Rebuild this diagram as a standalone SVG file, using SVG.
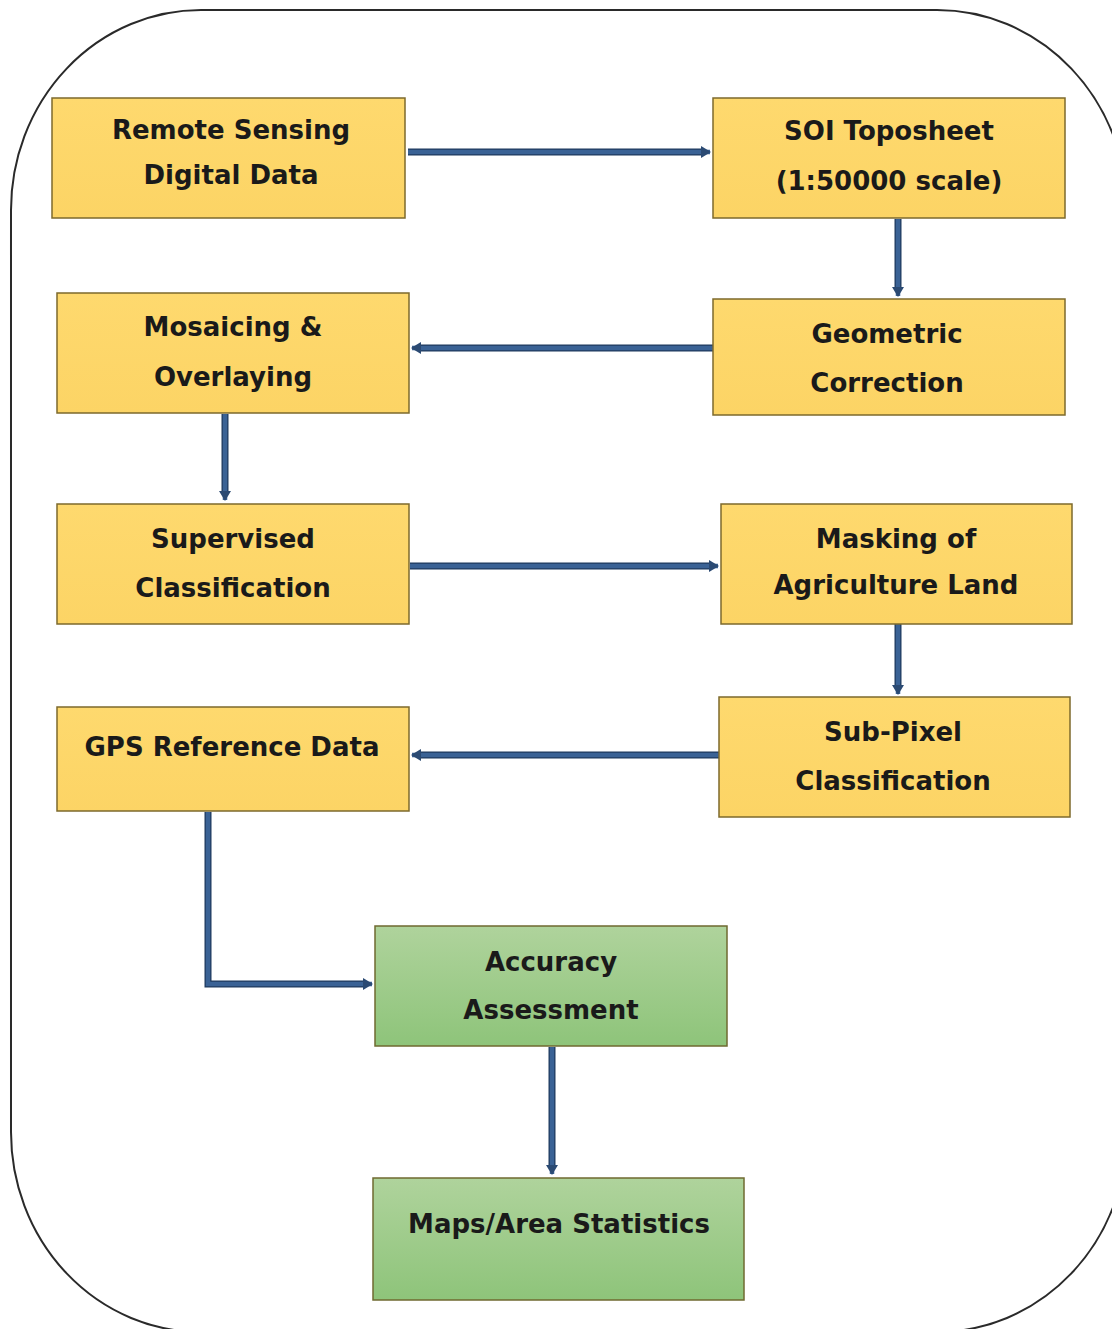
<svg xmlns="http://www.w3.org/2000/svg" width="1112" height="1329" viewBox="0 0 1112 1329">
<defs>
<style>
.y{fill:url(#gy);stroke:#7d6a2c;stroke-width:1.5}
.g{fill:url(#gg);stroke:#6f6a30;stroke-width:1.5}
.t{font-family:"DejaVu Sans",sans-serif;font-weight:bold;font-size:26px;fill:#1a1a1a;text-anchor:middle}
.c{fill:none;stroke:#1f3a5e;stroke-width:7}
.ci{fill:none;stroke:#3a6295;stroke-width:4.5}
</style>
<linearGradient id="gy" x1="0" y1="0" x2="0" y2="1"><stop offset="0" stop-color="#fed96e"/><stop offset="1" stop-color="#fcd465"/></linearGradient>
<linearGradient id="gg" x1="0" y1="0" x2="0" y2="1"><stop offset="0" stop-color="#afd39c"/><stop offset="1" stop-color="#8ec47a"/></linearGradient>
<marker id="ah" markerUnits="userSpaceOnUse" markerWidth="12" markerHeight="14" refX="9" refY="7" orient="auto"><path d="M0,1 L10,7 L0,13 Z" fill="#2b4a73"/></marker>
</defs>
<rect x="0" y="0" width="1112" height="1329" fill="#ffffff"/>
<rect id="frame" x="11" y="10" width="1116" height="1322" rx="190" ry="200" fill="none" stroke="#2a2a2a" stroke-width="2"/>
<g id="connectors">
<path class="c" d="M408,152 H704"/><path class="ci" d="M408,152 H710" marker-end="url(#ah)"/>
<path class="c" d="M898,219 V290"/><path class="ci" d="M898,219 V296" marker-end="url(#ah)"/>
<path class="c" d="M713,348 H418"/><path class="ci" d="M713,348 H412" marker-end="url(#ah)"/>
<path class="c" d="M225,414 V494"/><path class="ci" d="M225,414 V500" marker-end="url(#ah)"/>
<path class="c" d="M410,566 H712"/><path class="ci" d="M410,566 H718" marker-end="url(#ah)"/>
<path class="c" d="M898,624 V688"/><path class="ci" d="M898,624 V694" marker-end="url(#ah)"/>
<path class="c" d="M719,755 H418"/><path class="ci" d="M719,755 H412" marker-end="url(#ah)"/>
<path class="c" d="M208,812 V984 H366"/><path class="ci" d="M208,812 V984 H372" marker-end="url(#ah)"/>
<path class="c" d="M552,1047 V1168"/><path class="ci" d="M552,1047 V1174" marker-end="url(#ah)"/>
</g>
<g id="n1"><rect class="y" x="52" y="98" width="353" height="120"/><text class="t" x="231" y="139">Remote Sensing</text><text class="t" x="231" y="184">Digital Data</text></g>
<g id="n2"><rect class="y" x="713" y="98" width="352" height="120"/><text class="t" x="889" y="140">SOI Toposheet</text><text class="t" x="889" y="190">(1:50000 scale)</text></g>
<g id="n3"><rect class="y" x="713" y="299" width="352" height="116"/><text class="t" x="887" y="343">Geometric</text><text class="t" x="887" y="392">Correction</text></g>
<g id="n4"><rect class="y" x="57" y="293" width="352" height="120"/><text class="t" x="233" y="336">Mosaicing &amp;</text><text class="t" x="233" y="386">Overlaying</text></g>
<g id="n5"><rect class="y" x="57" y="504" width="352" height="120"/><text class="t" x="233" y="548">Supervised</text><text class="t" x="233" y="597">Classification</text></g>
<g id="n6"><rect class="y" x="721" y="504" width="351" height="120"/><text class="t" x="896" y="548">Masking of</text><text class="t" x="896" y="594">Agriculture Land</text></g>
<g id="n7"><rect class="y" x="719" y="697" width="351" height="120"/><text class="t" x="893" y="741">Sub-Pixel</text><text class="t" x="893" y="790">Classification</text></g>
<g id="n8"><rect class="y" x="57" y="707" width="352" height="104"/><text class="t" x="232" y="756">GPS Reference Data</text></g>
<g id="n9"><rect class="g" x="375" y="926" width="352" height="120"/><text class="t" x="551" y="971">Accuracy</text><text class="t" x="551" y="1019">Assessment</text></g>
<g id="n10"><rect class="g" x="373" y="1178" width="371" height="122"/><text class="t" x="559" y="1233">Maps/Area Statistics</text></g>
</svg>
